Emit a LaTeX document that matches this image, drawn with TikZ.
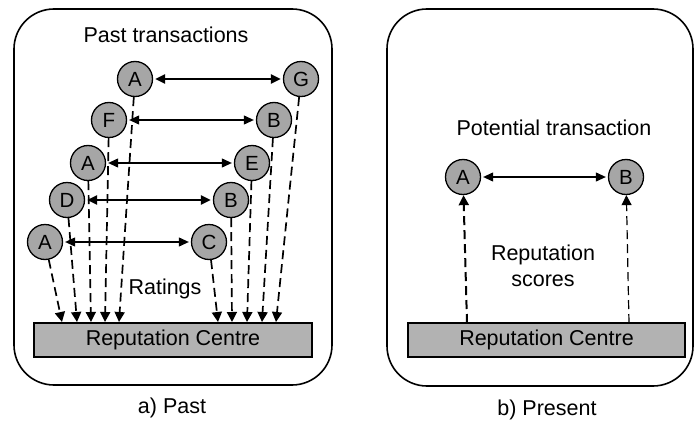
\documentclass[tikz,border=0pt]{standalone}
\usepackage{fontspec}
\setmainfont{Liberation Sans}
\usetikzlibrary{arrows.meta,positioning}

\begin{document}
\begin{tikzpicture}[x=1pt,y=-1pt,
	agent/.style={circle,draw,line width=1.3pt,fill=gray!70,minimum size=35pt,inner sep=0pt,font=\fontsize{20.5}{22}\selectfont},
	trans/.style={{Triangle[length=10pt,width=9pt]}-{Triangle[length=10pt,width=9pt]},line width=1.1pt,shorten <=2pt,shorten >=2pt},
	heavy/.style={line width=2.4pt},
	rating/.style={-{Triangle[length=10pt,width=10pt]},dash pattern=on 9pt off 5pt,line width=1.7pt},
	lbl/.style={font=\fontsize{21.5}{26}\selectfont,align=center},
	centre/.style={draw,line width=1.3pt,fill=gray!60,minimum height=34pt,inner sep=0pt,font=\fontsize{21.5}{24}\selectfont},
	panel/.style={draw,line width=1.6pt,rounded corners=40pt}]

					\useasboundingbox (0,0) rectangle (696,423);

					\draw[panel] (14,9) rectangle (332,385);
					\draw[panel] (387,9) rectangle (693,386);

					\node[lbl] (past) at (166,35) {Past transactions};
					\node[lbl] (ratings) at (165,289) {Ratings};
					\node[lbl] (capa) at (172,408) {a) Past};

					\node[centre,minimum width=278pt] (rc) at (173,340) {Reputation Centre};

					\node[agent] (a1) at (135,79) {A};
					\node[agent] (g1) at (301,79) {G};
					\node[agent] (f1) at (109,120) {F};
					\node[agent] (b1) at (274,120) {B};
					\node[agent] (a2) at (88,163) {A};
					\node[agent] (e1) at (252,163) {E};
					\node[agent] (d1) at (67,200) {D};
					\node[agent] (b2) at (231,200) {B};
					\node[agent] (a3) at (45,242) {A};
					\node[agent] (c1) at (209,242) {C};

					\draw[trans,heavy] (a1) -- (g1);
					\draw[trans] (f1) -- (b1);
					\draw[trans] (a2) -- (e1);
					\draw[trans,heavy] (d1) -- (b2);
					\draw[trans] (a3) -- (c1);

					\coordinate (r1) at (62,322);
					\coordinate (r2) at (77,322);
					\coordinate (r3) at (91,322);
					\coordinate (r4) at (105,322);
					\coordinate (r5) at (119,322);
					\coordinate (r6) at (218,322);
					\coordinate (r7) at (232,322);
					\coordinate (r8) at (247,322);
					\coordinate (r9) at (262,322);
					\coordinate (r10) at (276,322);

					\draw[rating] (a3) -- (r1);
					\draw[rating] (d1) -- (r2);
					\draw[rating] (a2) -- (r3);
					\draw[rating] (f1) -- (r4);
					\draw[rating] (a1) -- (r5);
					\draw[rating] (c1) -- (r6);
					\draw[rating] (b2) -- (r7);
					\draw[rating] (e1) -- (r8);
					\draw[rating] (b1) -- (r9);
					\draw[rating] (g1) -- (r10);

					\node[lbl] (potential) at (554,128) {Potential transaction};
					\node[lbl] (scores) at (543,266) {Reputation\\scores};
					\node[lbl] (capb) at (547,410) {b) Present};

					\node[centre,minimum width=277pt] (rcb) at (546.5,340) {Reputation Centre};

					\node[agent] (pa) at (463,177) {A};
					\node[agent] (pb) at (626,177) {B};

					\draw[trans] (pa) -- (pb);

					\coordinate (s1) at (467,323);
					\coordinate (s2) at (629,323);

					\draw[rating,line width=2pt] (s1) -- (pa);
					\draw[rating,line width=1.2pt] (s2) -- (pb);
				\end{tikzpicture}
\end{document}
